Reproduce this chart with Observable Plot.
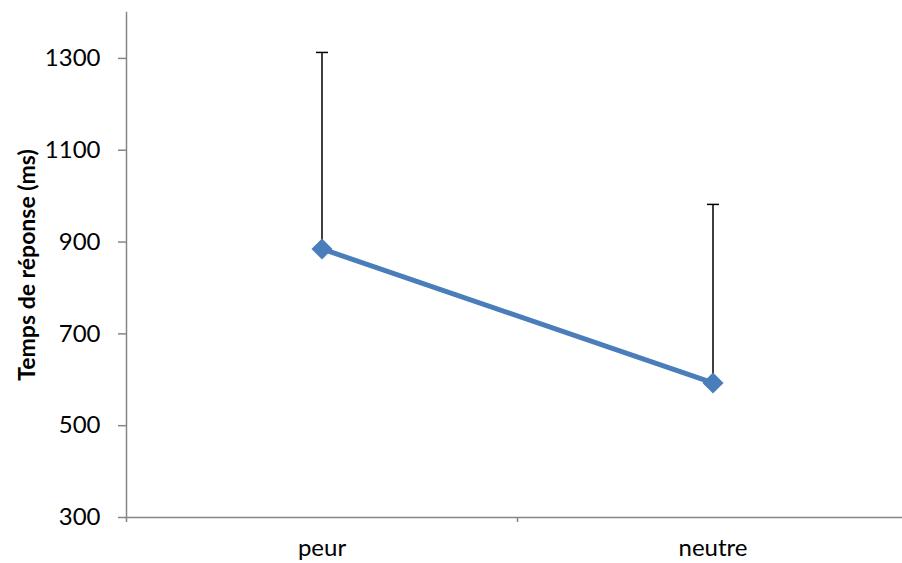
<!DOCTYPE html>
<html>
<head>
<meta charset="utf-8">
<script src="https://cdn.jsdelivr.net/npm/d3@7"></script>
<script src="https://cdn.jsdelivr.net/npm/@observablehq/plot@0.6"></script>
<style>
  html, body { margin: 0; padding: 0; background: #fff; overflow: hidden; }
</style>
</head>
<body>
<div id="chart"></div>
<script>
const categories = ["peur", "neutre"];
const means = [885, 593];
const upperBars = [1313, 982];
const yTicks = [300, 500, 700, 900, 1100, 1300];
const yLabel = "Temps de réponse (ms)";

const data = categories.map((c, i) => ({ cat: c, idx: i + 0.5, mean: means[i], upper: upperBars[i] }));
const boundaryTicks = d3.range(categories.length + 1);
const centerTicks = categories.map((c, i) => i + 0.5);

const capSymbol = {
  draw(ctx, size) {
    const w = Math.sqrt(size / Math.PI);
    ctx.moveTo(-w, 0);
    ctx.lineTo(w, 0);
  }
};

const font = "Lato, 'Open Sans', sans-serif";
const axisGray = "#868686";

const chart = Plot.plot({
  width: 902,
  height: 563,
  marginLeft: 126,
  marginRight: -6,
  marginTop: 12,
  marginBottom: 46,
  style: { fontFamily: font, background: "#fff" },
  x: { domain: [0, categories.length], axis: null },
  y: { domain: [300, 1400], axis: null },
  marks: [
    Plot.frame({ anchor: "left", stroke: axisGray, strokeWidth: 1.5 }),
    Plot.frame({ anchor: "bottom", stroke: axisGray, strokeWidth: 1.5 }),
    Plot.axisY({ ticks: yTicks, tickSize: 8, tickPadding: 18, tickFormat: d3.format("d"), stroke: axisGray, strokeWidth: 1.5, fill: "#000", fontSize: 24, label: null }),
    Plot.axisX({ ticks: boundaryTicks, tickSize: 5, tickFormat: () => "", stroke: axisGray, strokeWidth: 1.5, label: null }),
    Plot.axisX({ ticks: centerTicks, tickSize: 0, tickPadding: 21, tickFormat: (d) => categories[Math.floor(d)], fill: "#000", fontSize: 24, label: null }),
    Plot.text([yLabel], { frameAnchor: "left", rotate: -90, dx: -99, textAnchor: "middle", lineAnchor: "middle", fontWeight: "bold", fontSize: 23, fill: "#000" }),
    Plot.line(data, { x: "idx", y: "mean", stroke: "#4a7ebb", strokeWidth: 5 }),
    Plot.ruleX(data, { x: "idx", y1: "mean", y2: "upper", stroke: "#000", strokeWidth: 1.5 }),
    Plot.dot(data, { x: "idx", y: "upper", symbol: capSymbol, r: 6, fill: "none", stroke: "#000", strokeWidth: 1.5 }),
    Plot.dot(data, { x: "idx", y: "mean", symbol: "diamond2", r: 9.5, fill: "#4a7ebb", stroke: "none" })
  ]
});
document.getElementById("chart").appendChild(chart);
</script>
</body>
</html>
